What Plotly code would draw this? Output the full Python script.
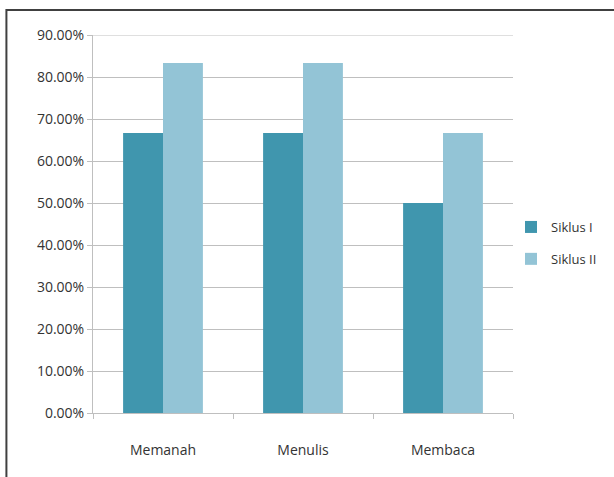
import plotly.graph_objects as go

categories = ["Memanah", "Menulis", "Membaca"]
siklus1 = [66.67, 66.67, 50.00]
siklus2 = [83.33, 83.33, 66.67]
tick_vals = [0, 10, 20, 30, 40, 50, 60, 70, 80, 90]
tick_text = ["0.00%", "10.00%", "20.00%", "30.00%", "40.00%", "50.00%",
             "60.00%", "70.00%", "80.00%", "90.00%"]

W, H = 614, 477
L, R, T, B = 93, 515, 35, 413

fig = go.Figure()
fig.add_trace(go.Bar(x=categories, y=siklus1, name="Siklus I",
                     marker=dict(color="#4096AE", line=dict(width=0)),
                     legendgroup="a"))
fig.add_trace(go.Bar(x=categories, y=siklus2, name="Siklus II",
                     marker=dict(color="#93C4D6", line=dict(width=0)),
                     legendgroup="b"))

pw, ph = R - L, B - T
def px(x): return (x - L) / pw
def py(y): return (B - y) / ph

fig.update_layout(
    width=W, height=H,
    margin=dict(l=L, r=W - R, t=T, b=H - B, pad=0),
    paper_bgcolor="white", plot_bgcolor="white",
    barmode="group", bargap=0.43, bargroupgap=0,
    font=dict(family="Open Sans", size=13, color="#333333"),
    showlegend=True,
    legend=dict(x=px(513), y=py(243), xanchor="left", yanchor="middle",
                traceorder="grouped", tracegroupgap=12,
                font=dict(size=13, color="#333333"), bgcolor="rgba(0,0,0,0)"),
    xaxis=dict(showline=True, linecolor="#BFBFBF", linewidth=1,
               ticks="outside", tickson="boundaries", ticklen=5, tickcolor="#BFBFBF",
               ticklabelstandoff=24, showgrid=False,
               tickfont=dict(size=14, color="#333333")),
    yaxis=dict(range=[0, tick_vals[-1]], tickvals=tick_vals, ticktext=tick_text,
               showline=True, linecolor="#BFBFBF", linewidth=1,
               ticks="outside", ticklen=5, tickcolor="#BFBFBF",
               showgrid=True, gridcolor="#BFBFBF", gridwidth=1,
               zeroline=False, tickfont=dict(size=14, color="#333333")),
    shapes=[dict(type="rect", xref="paper", yref="paper",
                 x0=px(6), x1=px(640), y0=py(500), y1=py(10),
                 line=dict(color="#404040", width=2), fillcolor="rgba(0,0,0,0)",
                 layer="below"),
            dict(type="line", xref="paper", yref="y", x0=0, x1=1,
                 y0=tick_vals[-1], y1=tick_vals[-1],
                 line=dict(color="#BFBFBF", width=1), layer="below")],
)

fig.write_html("out.html")
